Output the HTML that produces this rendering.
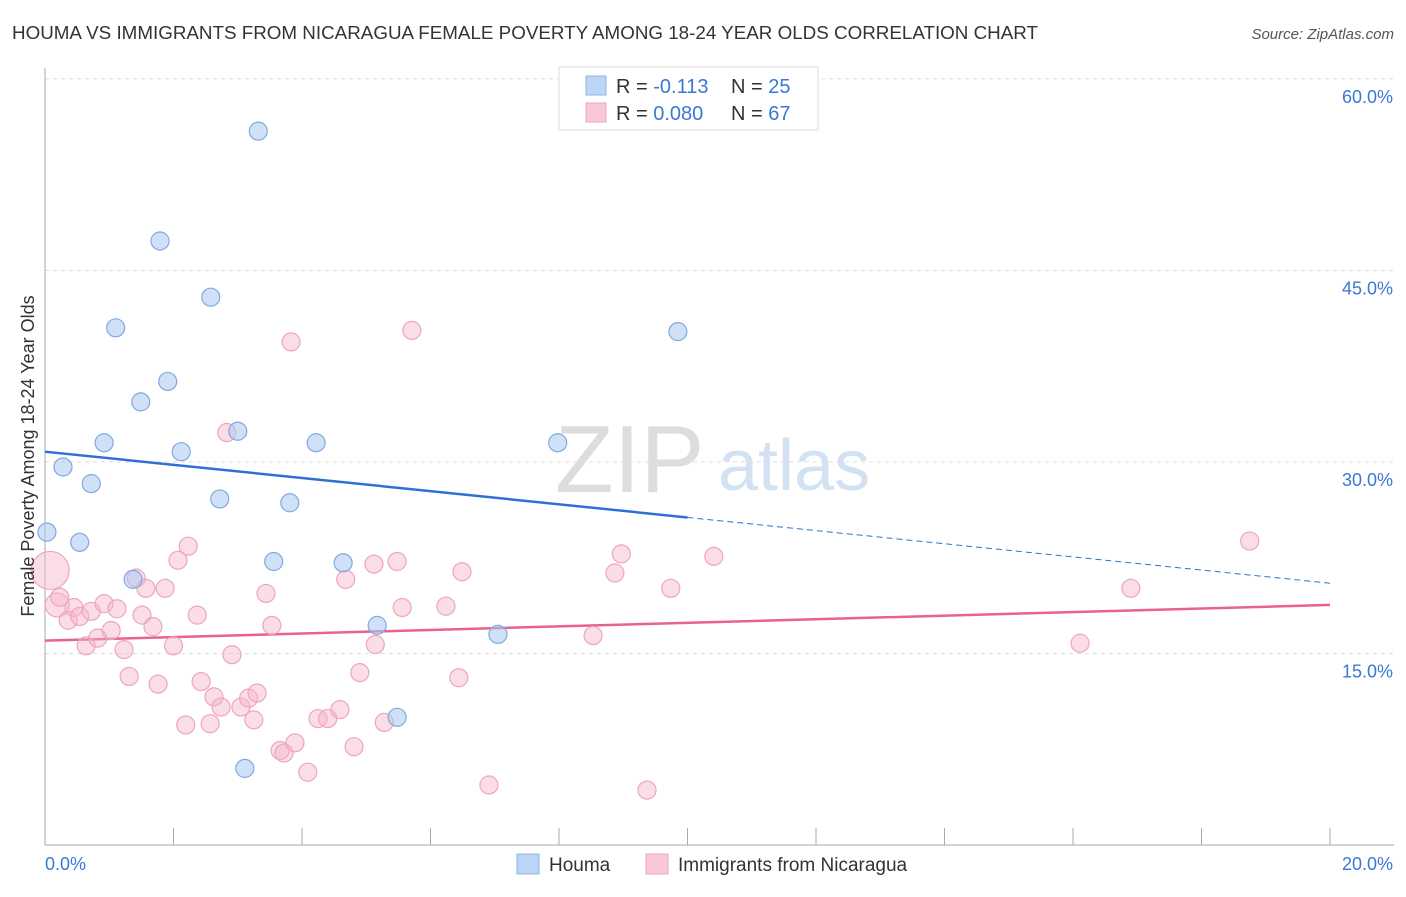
<!DOCTYPE html>
<html><head><meta charset="utf-8"><style>
body{margin:0;background:#fff;font-family:"Liberation Sans",sans-serif}
svg text{font-family:"Liberation Sans",sans-serif}
</style></head><body>
<svg id="chart" width="1406" height="892" xmlns="http://www.w3.org/2000/svg">
<text x="12" y="39" font-size="18" fill="#333" textLength="1026" lengthAdjust="spacingAndGlyphs">HOUMA VS IMMIGRANTS FROM NICARAGUA FEMALE POVERTY AMONG 18-24 YEAR OLDS CORRELATION CHART</text>
<text x="1394" y="39" font-size="15" fill="#555" text-anchor="end" font-style="italic">Source: ZipAtlas.com</text>
<g><text x="555" y="492" font-size="96" fill="#ddd" font-family="Liberation Serif,serif">ZIP</text><text x="718" y="490" font-size="72" fill="#d3e2f3">atlas</text></g>
<g id="grid"></g><g id="axes"></g><g id="lines"></g><g id="pts"></g>
<text transform="translate(34,456) rotate(-90)" font-size="18" fill="#333" text-anchor="middle">Female Poverty Among 18-24 Year Olds</text>
<g>
<rect x="559" y="67" width="259" height="63" fill="#fff" stroke="#ddd"/>
<rect x="586" y="76" width="20" height="19" fill="#bcd5f5" stroke="#8fb5e6"/>
<rect x="586" y="103" width="20" height="19" fill="#f9c8d7" stroke="#eea5bd"/>
<text x="616" y="93" font-size="20" fill="#333">R = <tspan fill="#3a78d4"> -0.113</tspan><tspan x="731">N = </tspan><tspan fill="#3a78d4">25</tspan></text>
<text x="616" y="120" font-size="20" fill="#333">R = <tspan fill="#3a78d4">0.080</tspan><tspan x="731">N = </tspan><tspan fill="#3a78d4">67</tspan></text>
</g>
<g><rect x="517" y="854" width="22" height="20" fill="#bcd5f5" stroke="#8fb5e6"/><text x="549" y="871" font-size="19" fill="#333">Houma</text></g>
<g><rect x="646" y="854" width="22" height="20" fill="#f9c8d7" stroke="#eea5bd"/><text x="678" y="871" font-size="19" fill="#333">Immigrants from Nicaragua</text></g>
</svg>
<script>
const yTicks=[15,30,45,60];
const xTickLabels=["0.0%","20.0%"];
const houmaX=[0.03,3.32,1.79,2.58,1.1,1.91,1.49,3.0,0.92,4.22,2.12,0.28,0.72,2.72,3.81,0.54,3.56,4.64,1.37,5.17,7.05,5.48,3.11,7.98,9.85];
const houmaY=[24.5,55.9,47.3,42.9,40.5,36.3,34.7,32.4,31.5,31.5,30.8,29.6,28.3,27.1,26.8,23.7,22.2,22.1,20.8,17.2,16.5,10.0,6.0,31.5,40.2];
const nicX=[0.08,0.19,0.23,0.36,0.45,0.54,0.64,0.72,0.82,0.92,1.03,1.12,1.23,1.31,1.42,1.51,1.57,1.68,1.76,1.87,2.0,2.07,2.19,2.23,2.37,2.43,2.57,2.63,2.74,2.83,2.91,3.05,3.17,3.25,3.3,3.44,3.53,3.66,3.72,3.83,3.89,4.09,4.25,4.4,4.59,4.68,4.81,4.9,5.12,5.14,5.28,5.48,5.56,5.71,6.24,6.44,6.49,6.91,8.53,8.87,8.97,9.37,9.74,10.41,16.11,16.9,18.75];
const nicY=[21.5,18.8,19.4,17.6,18.6,17.9,15.6,18.3,16.2,18.9,16.8,18.5,15.3,13.2,20.9,18.0,20.1,17.1,12.6,20.1,15.6,22.3,9.4,23.4,18.0,12.8,9.5,11.6,10.8,32.3,14.9,10.8,11.5,9.8,11.9,19.7,17.2,7.4,7.2,39.4,8.0,5.7,9.9,9.9,10.6,20.8,7.7,13.5,22.0,15.7,9.6,22.2,18.6,40.3,18.7,13.1,21.4,4.7,16.4,21.3,22.8,4.3,20.1,22.6,15.8,20.1,23.8];
const houmaTrend=[30.8,20.5];
const nicTrend=[16.0,18.8];
const X=v=>45+v*64.25, Y=v=>845-v*12.77;
const NS="http://www.w3.org/2000/svg";
function mk(p,t,a){const e=document.createElementNS(NS,t);for(const k in a)e.setAttribute(k,a[k]);document.getElementById(p).appendChild(e);return e;}
yTicks.forEach(t=>{
 const l=mk('grid','line',{x1:45,x2:1394,y1:Y(t),y2:Y(t),stroke:'#ddd','stroke-dasharray':'4,4'});
 
 
 const tx=mk('grid','text',{x:1393,y:Y(t)+24,'font-size':18,fill:'#3a78d4','text-anchor':'end'});
 tx.textContent=t.toFixed(1)+'%';
 
 
});
const ax=mk('axes','line',{x1:45,x2:45,y1:68,y2:845,stroke:'#aaa'});


const bx=mk('axes','line',{x1:45,x2:1394,y1:845,y2:845,stroke:'#aaa'});


for(let i=1;i<=10;i++){const t=mk('axes','line',{x1:X(2*i),x2:X(2*i),y1:828,y2:845,stroke:'#aaa'});
 
 }
xTickLabels.forEach((s,i)=>{const t=mk('axes','text',{x:i?1393:45,y:870,'font-size':18,fill:'#3a78d4','text-anchor':i?'end':'start'});t.textContent=s;
 
 });
nicX.forEach((x,i)=>{const r=i==0?19:(i==1?12:9);const c=mk('pts','circle',{cx:X(x),cy:Y(nicY[i]),r:r,fill:'rgba(246,180,202,0.45)',stroke:'#eea5bd','stroke-width':1.2});
 
 });
houmaX.forEach((x,i)=>{const c=mk('pts','circle',{cx:X(x),cy:Y(houmaY[i]),r:9,fill:'rgba(170,200,240,0.55)',stroke:'#7fa9e0','stroke-width':1.2});
 
 });
const hy=x=>houmaTrend[0]+(houmaTrend[1]-houmaTrend[0])*x/20;
const l1=mk('lines','line',{x1:X(0),y1:Y(hy(0)),x2:X(10),y2:Y(hy(10)),stroke:'#2f6fd6','stroke-width':2.5});


const l2=mk('lines','line',{x1:X(10),y1:Y(hy(10)),x2:X(20),y2:Y(hy(20)),stroke:'#2f6fd6','stroke-width':1,'stroke-dasharray':'6,4'});


const l3=mk('lines','line',{x1:X(0),y1:Y(nicTrend[0]),x2:X(20),y2:Y(nicTrend[1]),stroke:'#e8628e','stroke-width':2.5});


</script>
</body></html>
